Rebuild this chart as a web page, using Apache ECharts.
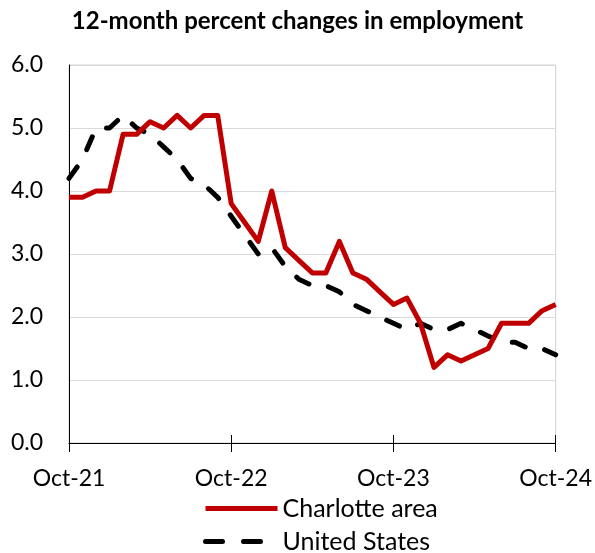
<!DOCTYPE html>
<html>
<head>
<meta charset="utf-8">
<script src="https://cdn.jsdelivr.net/npm/echarts@6/dist/echarts.min.js"></script>
<style>
html, body { margin: 0; padding: 0; background: #fff; }
#chart { width: 595px; height: 553px; }
</style>
</head>
<body>
<div id="chart"></div>
<script>
// monthly, Oct-21 .. Oct-24
var months = ['Oct-21','Nov-21','Dec-21','Jan-22','Feb-22','Mar-22','Apr-22','May-22','Jun-22','Jul-22','Aug-22','Sep-22',
    'Oct-22','Nov-22','Dec-22','Jan-23','Feb-23','Mar-23','Apr-23','May-23','Jun-23','Jul-23','Aug-23','Sep-23',
    'Oct-23','Nov-23','Dec-23','Jan-24','Feb-24','Mar-24','Apr-24','May-24','Jun-24','Jul-24','Aug-24','Sep-24',
    'Oct-24'];

var charlotte = [3.9, 3.9, 4.0, 4.0, 4.9, 4.9, 5.1, 5.0, 5.2, 5.0, 5.2, 5.2,
    3.8, 3.5, 3.2, 4.0, 3.1, 2.9, 2.7, 2.7, 3.2, 2.7, 2.6, 2.4,
    2.2, 2.3, 1.9, 1.2, 1.4, 1.3, 1.4, 1.5, 1.9, 1.9, 1.9, 2.1,
    2.2];

var unitedStates = [4.2, 4.5, 5.0, 5.0, 5.2, 5.0, 4.9, 4.7, 4.5, 4.2, 4.1, 3.9,
    3.6, 3.3, 3.0, 3.1, 2.8, 2.6, 2.5, 2.5, 2.4, 2.2, 2.1, 2.0,
    1.9, 1.8, 1.9, 1.8, 1.8, 1.9, 1.8, 1.7, 1.6, 1.6, 1.5, 1.5,
    1.4];

var yearTicks = function (i) { return i % 12 === 0; };
var font = 'Lato, "Open Sans", sans-serif';

function legendFor(name, top, lineStyle) {
    return {
        orient: 'vertical',
        left: 203,
        top: top,
        padding: 0,
        itemWidth: 72,
        itemHeight: 14,
        itemStyle: { opacity: 0 },
        lineStyle: lineStyle,
        textStyle: { fontFamily: font, fontSize: 25, color: '#000' },
        data: [name]
    };
}

var option = {
    animation: false,
    title: {
        text: '12-month percent changes in employment',
        left: 'center',
        top: 4,
        textStyle: { fontFamily: font, fontSize: 24, fontWeight: 'bold', color: '#000' }
    },
    legend: [
        legendFor('Charlotte area', 496, { width: 5, color: '#c00000' }),
        legendFor('United States', 529, { width: 5, color: '#000', type: [17, 21], cap: 'round' })
    ],
    grid: { left: 69, right: 39, top: 65, bottom: 110, show: true, borderColor: '#d0d0d0', borderWidth: 1 },
    xAxis: [
        {
            type: 'category',
            data: months,
            boundaryGap: false,
            axisLine: { lineStyle: { color: '#000', width: 1 } },
            axisTick: { interval: yearTicks, length: 9, lineStyle: { color: '#000' } },
            axisLabel: { interval: yearTicks, margin: 24, fontFamily: font, fontSize: 23, color: '#000' }
        },
        {
            type: 'category',
            data: months,
            position: 'bottom',
            boundaryGap: false,
            axisLine: { show: false },
            axisTick: { inside: true, interval: yearTicks, length: 8, lineStyle: { color: '#000' } },
            axisLabel: { show: false }
        }
    ],
    yAxis: {
        type: 'value',
        min: 0,
        max: 6,
        interval: 1,
        axisLine: { show: true, lineStyle: { color: '#000', width: 1 } },
        axisTick: { show: false },
        splitLine: { lineStyle: { color: '#d9d9d9', width: 1 } },
        axisLabel: {
            margin: 26,
            fontFamily: font,
            fontSize: 23,
            color: '#000',
            formatter: function (v) { return v.toFixed(1); }
        }
    },
    series: [
        {
            name: 'United States',
            type: 'line',
            symbol: 'none',
            data: unitedStates,
            z: 2,
            lineStyle: { color: '#000', width: 5, type: [14, 20], cap: 'round', join: 'round' },
            itemStyle: { color: '#000' }
        },
        {
            name: 'Charlotte area',
            type: 'line',
            symbol: 'none',
            data: charlotte,
            z: 3,
            lineStyle: { color: '#c00000', width: 5, join: 'round' },
            itemStyle: { color: '#c00000' }
        }
    ]
};

window.onload = function () {
    var chart = echarts.init(document.getElementById('chart'));
    chart.setOption(option);
};
</script>
</body>
</html>
